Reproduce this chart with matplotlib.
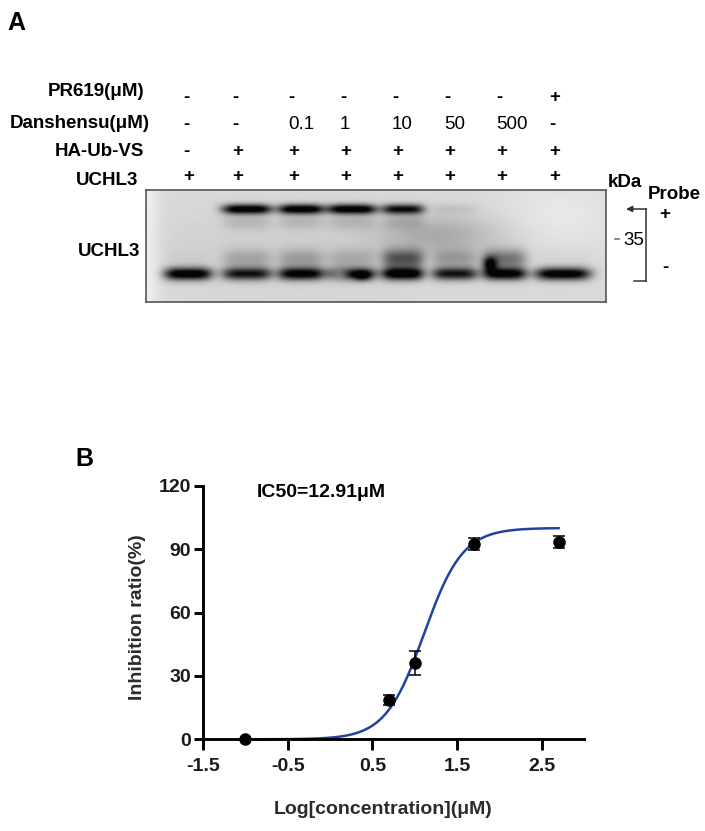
"""Danshensu / UCHL3 probe-labelling blot and inhibition curve."""

import matplotlib

matplotlib.use("Agg")
import matplotlib.pyplot as plt
import numpy as np

plt.rcParams["font.family"] = ["Liberation Sans", "DejaVu Sans"]

# ---- panel A: lane annotations -------------------------------------------
row_labels = ["PR619(μM)", "Danshensu(μM)", "HA-Ub-VS", "UCHL3"]
pr619 = ["-", "-", "-", "-", "-", "-", "-", "+"]
danshensu = ["-", "-", "0.1", "1", "10", "50", "500", "-"]
ha_ub_vs = ["-", "+", "+", "+", "+", "+", "+", "+"]
uchl3 = ["+", "+", "+", "+", "+", "+", "+", "+"]

# relative band strength per lane
probe_band = [0.0, 1.0, 1.0, 1.0, 0.85, 0.07, 0.0, 0.0]
free_band = [1.0, 0.8, 0.92, 0.75, 1.0, 0.8, 0.95, 1.0]
smear = [0.05, 0.35, 0.4, 0.3, 0.95, 0.4, 0.75, 0.05]
marker_kda = "35"

# ---- panel B: inhibition data --------------------------------------------
log_conc = [-1.0, 0.70, 1.0, 1.70, 2.70]
inhibition = [0.0, 18.6, 36.1, 92.4, 93.3]
inhibition_err = [0.0, 2.5, 5.8, 3.0, 2.9]
ic50 = 12.91
fit_top = 100.0
fit_bottom = 0.0
fit_hill = 1.9

W, H = 705, 831
fig = plt.figure(figsize=(W / 100, H / 100), dpi=100)


def frac(x0, y0, w, h):
    return [x0 / W, 1 - (y0 + h) / H, w / W, h / H]


# ---- blot image -------------------------------------------------------------
bx0, by0, bx1, by1 = 146, 190, 606, 302
lane_x = [188, 247, 301, 352, 403, 455, 505, 563]
lane_hw = [24, 25, 23, 25, 21, 23, 22, 28]

xs = np.linspace(bx0, bx1, 920)
ys = np.linspace(by0, by1, 224)
X, Y = np.meshgrid(xs, ys)

bg = 0.85 + 0.09 * np.exp(-((X - bx0) / 14.0) ** 2)
bg += 0.06 * np.exp(-((X - 560) / 60.0) ** 2 - ((Y - 215) / 35.0) ** 2)
bg -= 0.04 * np.exp(-((X - 300) / 150.0) ** 2 - ((Y - 250) / 40.0) ** 2)
dark = np.zeros_like(X)
for cx, hw, up, lo, sm in zip(lane_x, lane_hw, probe_band, free_band, smear):
    shape_x = np.exp(-np.abs((X - cx) / hw) ** 4)
    dark += up * shape_x * np.exp(-((Y - 209) / 5.0) ** 2)
    dark += lo * shape_x * np.exp(-((Y - 274) / 6.3) ** 2)
    dark += 0.55 * sm * shape_x * np.exp(-((Y - 259) / 10.0) ** 2)
    dark += 0.12 * (up > 0.5) * shape_x * np.exp(-((Y - 222) / 8.0) ** 2)
# uneven spots inside some lanes
dark += 0.45 * np.exp(-((X - 362) / 9.0) ** 2 - ((Y - 276) / 5.0) ** 2)
dark -= 0.35 * np.exp(-((X - 340) / 8.0) ** 2 - ((Y - 274) / 5.0) ** 2)
dark += 0.7 * np.exp(-((X - 490) / 7.0) ** 2 - ((Y - 264) / 7.0) ** 2)
dark += 0.18 * np.exp(-((X - 440) / 60.0) ** 2 - ((Y - 235) / 20.0) ** 2)
img = np.clip(bg - 0.95 * dark, 0.02, 1.0)

ax_blot = fig.add_axes(frac(bx0, by0, bx1 - bx0, by1 - by0))
ax_blot.imshow(img, cmap="gray", vmin=0, vmax=1, aspect="auto",
               extent=(bx0, bx1, by1, by0), interpolation="bilinear")
ax_blot.set_xticks([])
ax_blot.set_yticks([])
for sp in ax_blot.spines.values():
    sp.set_color("#555555")
    sp.set_linewidth(1.2)

# ---- panel B ----------------------------------------------------------------
ax = fig.add_axes(frac(203, 485.7, 381, 253.6))
ax.patch.set_visible(False)
x_fit = np.linspace(log_conc[0], log_conc[-1], 300)
y_fit = fit_bottom + (fit_top - fit_bottom) / (1 + 10 ** ((np.log10(ic50) - x_fit) * fit_hill))
ax.plot(x_fit, y_fit, color="#2342a0", lw=1.8, zorder=2, clip_on=False)
ax.errorbar(log_conc, inhibition, yerr=inhibition_err, fmt="o", color="black",
            ms=8, capsize=4, elinewidth=1.1, capthick=1.1, zorder=3, clip_on=False)

ax.set_xlim(-1.5, 3.0)
ax.set_ylim(0, 120)
ax.set_xticks([-1.5, -0.5, 0.5, 1.5, 2.5])
ax.set_xticklabels(["-1.5", "-0.5", "0.5", "1.5", "2.5"])
ax.set_yticks([0, 30, 60, 90, 120])
for side in ("top", "right"):
    ax.spines[side].set_visible(False)
for side in ("left", "bottom"):
    ax.spines[side].set_linewidth(2.1)
ax.tick_params(axis="x", length=7.7, width=2.1, pad=6, labelsize=14)
ax.tick_params(axis="y", length=6.7, width=2.1, pad=2, labelsize=14)
for t in ax.get_xticklabels() + ax.get_yticklabels():
    t.set_fontweight("bold")
    t.set_color("#1a1a1a")

# ---- overlay for text in pixel coords --------------------------------------
ov = fig.add_axes([0, 0, 1, 1])
ov.set_xlim(0, W)
ov.set_ylim(H, 0)
ov.axis("off")

ov.text(7, 30, "A", fontsize=18, fontweight="bold", ha="left", va="baseline")
ov.text(75, 466, "B", fontsize=18, fontweight="bold", ha="left", va="baseline")

label_right = [144, 150, 144, 138]
label_base = [96, 128.5, 156, 185]
for lab, xr, yb in zip(row_labels, label_right, label_base):
    ov.text(xr, yb, lab, fontsize=13.5, fontweight="bold", ha="right", va="baseline")

col_left = [183, 232, 288, 340, 392, 444, 496, 549]
row_base = [102, 129, 156, 181]
for marks, yb in zip([pr619, danshensu, ha_ub_vs, uchl3], row_base):
    for xl, m in zip(col_left, marks):
        wt = "normal" if m not in ("+", "-") else "bold"
        ov.text(xl, yb, m, fontsize=13.5, fontweight=wt, ha="left", va="baseline")

ov.text(140, 256, "UCHL3", fontsize=13.5, fontweight="bold", ha="right", va="baseline")
ov.text(608, 187, "kDa", fontsize=13.5, fontweight="bold", ha="left", va="baseline")
ov.text(648, 199, "Probe", fontsize=13.5, fontweight="bold", ha="left", va="baseline")
ov.text(665, 214, "+", fontsize=13.5, fontweight="bold", ha="center", va="center")
ov.text(665, 268, "-", fontsize=13.5, fontweight="bold", ha="center", va="center")
ov.text(623, 245, marker_kda, fontsize=13.5, ha="left", va="baseline")
ov.plot([615, 619], [239, 239], color="#777777", lw=1.2)

# bracket with arrow
ov.plot([646, 646], [209, 281], color="#333333", lw=1.1)
ov.plot([634, 646], [281, 281], color="#333333", lw=1.1)
ov.annotate("", xy=(626, 209), xytext=(646.5, 209),
            arrowprops=dict(arrowstyle="-|>", color="#333333", lw=1.1,
                            mutation_scale=9, shrinkA=0, shrinkB=0))

ov.text(256.7, 496.7, f"IC50={ic50}μM", fontsize=14, fontweight="bold",
        ha="left", va="baseline")
ov.text(383, 809, "Log[concentration](μM)", fontsize=14, fontweight="bold",
        color="#2b2b2b", ha="center", va="center")
ov.text(137.5, 616.7, "Inhibition ratio(%)", fontsize=14, fontweight="bold",
        color="#2b2b2b", ha="center", va="center", rotation=90)

fig.savefig("out.png", dpi=100)
